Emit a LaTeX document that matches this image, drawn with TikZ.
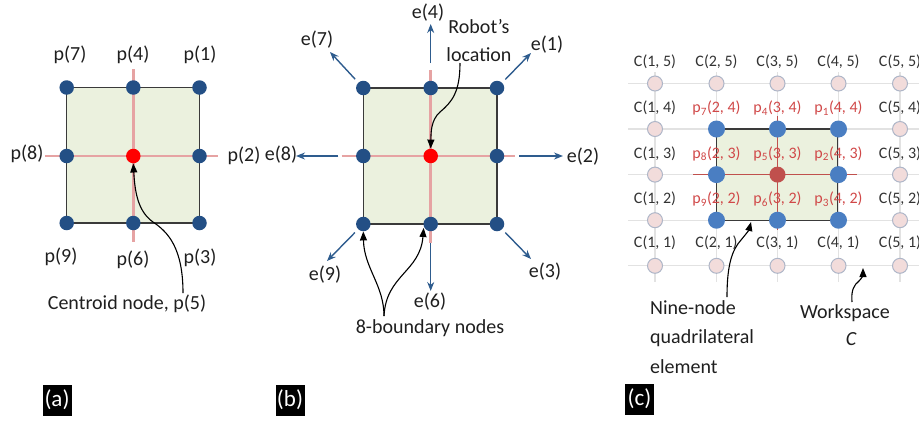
\documentclass[tikz,border=0pt]{standalone}
\usepackage{fontspec}
\setmainfont{Carlito}
\usetikzlibrary{arrows.meta}
\definecolor{greenfill}{HTML}{EBF1DE}
\definecolor{edgec}{HTML}{3A3A3A}
\definecolor{pinkc}{HTML}{E6A3A3}
\definecolor{navy}{HTML}{234F85}
\definecolor{bluearr}{HTML}{2E5C8E}
\definecolor{cblue}{HTML}{4A7EC2}
\definecolor{cred}{HTML}{C0504D}
\definecolor{lightfill}{HTML}{F2DCDB}
\definecolor{lightedge}{HTML}{AEB6C8}
\definecolor{gridc}{HTML}{E2E2E2}
\definecolor{redtext}{HTML}{D04848}
\definecolor{graytext}{HTML}{333333}
\tikzset{
  lbl/.style={font=\fontsize{20}{24}\selectfont, text=black!88, inner sep=0pt},
  clbl/.style={font=\fontsize{16}{19}\selectfont, text=graytext, inner sep=0pt},
  rlbl/.style={font=\fontsize{16}{19}\selectfont, text=redtext, inner sep=0pt},
  navnode/.style={circle, fill=navy, minimum size=14.5pt, inner sep=0pt},
  rednode/.style={circle, fill=red, minimum size=14.5pt, inner sep=0pt},
  cbnode/.style={circle, fill=cblue, minimum size=17pt, inner sep=0pt},
  crnode/.style={circle, fill=cred, minimum size=16pt, inner sep=0pt},
  litenode/.style={circle, fill=lightfill, draw=lightedge, line width=1pt, minimum size=15pt, inner sep=0pt},
  pinkln/.style={draw=pinkc, line width=2.5pt},
  redln/.style={draw=cred, line width=1.1pt},
  gridln/.style={draw=gridc, line width=1.2pt},
  elem/.style={fill=greenfill, draw=edgec, line width=1.3pt},
  barrow/.style={-{Stealth[length=9pt,width=7pt]}, draw=bluearr, line width=1.4pt},
  karrow/.style={-{Triangle[length=9pt,width=7pt]}, black, line width=1.1pt},
  tag/.style={fill=black, text=white, font=\fontsize{23}{25}\selectfont, inner sep=0pt, minimum width=29pt, minimum height=31pt}
}
\begin{document}
\begin{tikzpicture}[x=1pt,y=-1pt]
\useasboundingbox (0,0) rectangle (919,424);
\clip (0,0) rectangle (919,424);

% ================= (a) =================
\draw[elem] (66.7,87.5) rectangle (199.5,223);
\draw[pinkln] (45,156) -- (218,156);
\draw[pinkln] (133.3,69) -- (133.3,242);
\node[navnode] (a7) at (66.7,87.5) {};
\node[navnode] (a4) at (133.3,87.5) {};
\node[navnode] (a1) at (199.5,87.5) {};
\node[navnode] (a8) at (66.7,156) {};
\node[rednode] (a5) at (133.3,156) {};
\node[navnode] (a2) at (199.5,156) {};
\node[navnode] (a9) at (66.7,223) {};
\node[navnode] (a6) at (133.3,223) {};
\node[navnode] (a3) at (199.5,223) {};
\node[lbl] (pa7) at (70,55) {p(7)};
\node[lbl] (pa4) at (133,55) {p(4)};
\node[lbl] (pa1) at (200,55) {p(1)};
\node[lbl] (pa8) at (27,154) {p(8)};
\node[lbl] (pa2) at (244,156) {p(2)};
\node[lbl] (pa9) at (61,257) {p(9)};
\node[lbl] (pa6) at (133,260) {p(6)};
\node[lbl] (pa3) at (200,258) {p(3)};
\node[lbl] (cent) at (127,304) {Centroid node, p(5)};
\coordinate (ca0) at (183,293);
\draw[karrow] (ca0) .. controls (183,248) and (168,232) .. (153,222)
  .. controls (139,212) and (135,195) .. (a5.south);

% ================= (b) =================
\draw[elem] (363.3,88) rectangle (497,224);
\draw[pinkln] (341.7,156) -- (515,156);
\draw[pinkln] (430.7,70) -- (430.7,243);
\node[navnode] (b7) at (363.3,88) {};
\node[navnode] (b4) at (430.7,88) {};
\node[navnode] (b1) at (497,88) {};
\node[navnode] (b8) at (363.3,156) {};
\node[rednode] (b5) at (430.7,156) {};
\node[navnode] (b2) at (497,156) {};
\node[navnode] (b9) at (363.3,224) {};
\node[navnode] (b6) at (430.7,224) {};
\node[navnode] (b3) at (497,224) {};
\node[lbl] (e4) at (428,13) {e(4)};
\node[lbl] (e7) at (317,40) {e(7)};
\node[lbl] (e1) at (547,45) {e(1)};
\node[lbl] (e8) at (281,155) {e(8)};
\node[lbl] (e2) at (583,157) {e(2)};
\node[lbl] (e9) at (325,275) {e(9)};
\node[lbl] (e3) at (545,272) {e(3)};
\node[lbl] (e6) at (430,302) {e(6)};
\coordinate (t4) at (430.7,24);
\coordinate (t7) at (330,52);
\coordinate (t1) at (531,53);
\coordinate (t8) at (296,156);
\coordinate (t2) at (563,156);
\coordinate (t9) at (327,261);
\coordinate (t3) at (531,259);
\coordinate (t6) at (430.7,291);
\draw[barrow, shorten <=25pt] (b4.center) -- (t4);
\draw[barrow, shorten <=12pt] (b7.center) -- (t7);
\draw[barrow, shorten <=12pt] (b1.center) -- (t1);
\draw[barrow, shorten <=25pt] (b8.center) -- (t8);
\draw[barrow, shorten <=22pt] (b2.center) -- (t2);
\draw[barrow, shorten <=12pt] (b9.center) -- (t9);
\draw[barrow, shorten <=12pt] (b3.center) -- (t3);
\draw[barrow, shorten <=19pt] (b6.center) -- (t6);
\node[lbl, align=center, font=\fontsize{20}{28}\selectfont] (robot) at (479,41) {Robot's\\location};
\coordinate (rl0) at (460,63);
\draw[karrow] (rl0) .. controls (460,92) and (452,102) .. (440,112)
  .. controls (431,120) and (431,132) .. (b5.north);
\node[lbl] (bnd) at (430,328) {8-boundary nodes};
\coordinate (bn0) at (384,316);
\draw[karrow] (bn0) .. controls (384,285) and (364,268) .. (b9.south);
\draw[karrow] (bn0) .. controls (386,275) and (420,272) .. ([xshift=-7pt,yshift=-4pt]b6.center);

% ================= (c) =================
% grid
\foreach \yy in {83.5,129,174.6,220.2,265.8}
  \draw[gridln] (628,\yy) -- (919,\yy);
\foreach \xx in {655,716.5,777.5,838.5,900}
  \draw[gridln] (\xx,72) -- (\xx,282);
% light nodes
\node[litenode] (c15) at (655,83.5) {};
\node[litenode] (c25) at (716.5,83.5) {};
\node[litenode] (c35) at (777.5,83.5) {};
\node[litenode] (c45) at (838.5,83.5) {};
\node[litenode] (c55) at (900,83.5) {};
\node[litenode] (c14) at (655,129) {};
\node[litenode] (c54) at (900,129) {};
\node[litenode] (c13) at (655,174.6) {};
\node[litenode] (c53) at (900,174.6) {};
\node[litenode] (c12) at (655,220.2) {};
\node[litenode] (c52) at (900,220.2) {};
\node[litenode] (c11) at (655,265.8) {};
\node[litenode] (c21) at (716.5,265.8) {};
\node[litenode] (c31) at (777.5,265.8) {};
\node[litenode] (c41) at (838.5,265.8) {};
\node[litenode] (c51) at (900,265.8) {};
% element
\draw[elem] (716.5,129) rectangle (837.5,220.2);
\draw[redln] (693,174.6) -- (857,174.6);
\draw[redln] (777.5,116) -- (777.5,230);
\node[cbnode] (q7) at (716.5,129) {};
\node[cbnode] (q4) at (777.5,129) {};
\node[cbnode] (q1) at (838.5,129) {};
\node[cbnode] (q8) at (716.5,174.6) {};
\node[crnode] (q5) at (777.5,174.6) {};
\node[cbnode] (q2) at (838.5,174.6) {};
\node[cbnode] (q9) at (716.5,220.2) {};
\node[cbnode] (q6) at (777.5,220.2) {};
\node[cbnode] (q3) at (838.5,220.2) {};
% labels
\node[clbl] at (655,62) {C(1, 5)};
\node[clbl] at (716.5,62) {C(2, 5)};
\node[clbl] at (777.5,62) {C(3, 5)};
\node[clbl] at (838.5,62) {C(4, 5)};
\node[clbl] at (900,62) {C(5, 5)};
\node[clbl] at (655,108) {C(1, 4)};
\node[clbl] at (900,108) {C(5, 4)};
\node[clbl] at (655,153.5) {C(1, 3)};
\node[clbl] at (900,153.5) {C(5, 3)};
\node[clbl] at (655,199) {C(1, 2)};
\node[clbl] at (900,199) {C(5, 2)};
\node[clbl] at (655,243) {C(1, 1)};
\node[clbl] at (716.5,243) {C(2, 1)};
\node[clbl] at (777.5,243) {C(3, 1)};
\node[clbl] at (838.5,243) {C(4, 1)};
\node[clbl] at (900,243) {C(5, 1)};
\node[rlbl] at (716.5,108) {p\textsubscript{7}(2, 4)};
\node[rlbl] at (777.5,108) {p\textsubscript{4}(3, 4)};
\node[rlbl] at (838.5,108) {p\textsubscript{1}(4, 4)};
\node[rlbl] at (716.5,153.5) {p\textsubscript{8}(2, 3)};
\node[rlbl] at (777.5,153.5) {p\textsubscript{5}(3, 3)};
\node[rlbl] at (838.5,153.5) {p\textsubscript{2}(4, 3)};
\node[rlbl] at (716.5,199) {p\textsubscript{9}(2, 2)};
\node[rlbl] at (777.5,199) {p\textsubscript{6}(3, 2)};
\node[rlbl] at (838.5,199) {p\textsubscript{3}(4, 2)};
% texts and arrows
\node[lbl, align=left, anchor=west, font=\fontsize{20}{29.5}\selectfont] (nine) at (650,337) {Nine-node\\quadrilateral\\element};
\coordinate (nn0) at (727,297);
\draw[karrow] (nn0) .. controls (727,265) and (732,250) .. (741,240)
  .. controls (746,234) and (749,230) .. (751,222);
\node[lbl] (ws) at (845,313) {Workspace};
\node[lbl] (wsc) at (851,339) {\itshape C};
\coordinate (ws0) at (852,302);
\coordinate (ws1) at (863,268);
\draw[karrow] (ws0) .. controls (851,290) and (854,285) .. (859,281)
  .. controls (862,278) and (863,275) .. (ws1);

% ================= tags =================
\node[tag] (taga) at (57,400) {(a)};
\node[tag] (tagb) at (290,400) {(b)};
\node[tag] (tagc) at (639.5,399) {(c)};
\end{tikzpicture}
\end{document}
